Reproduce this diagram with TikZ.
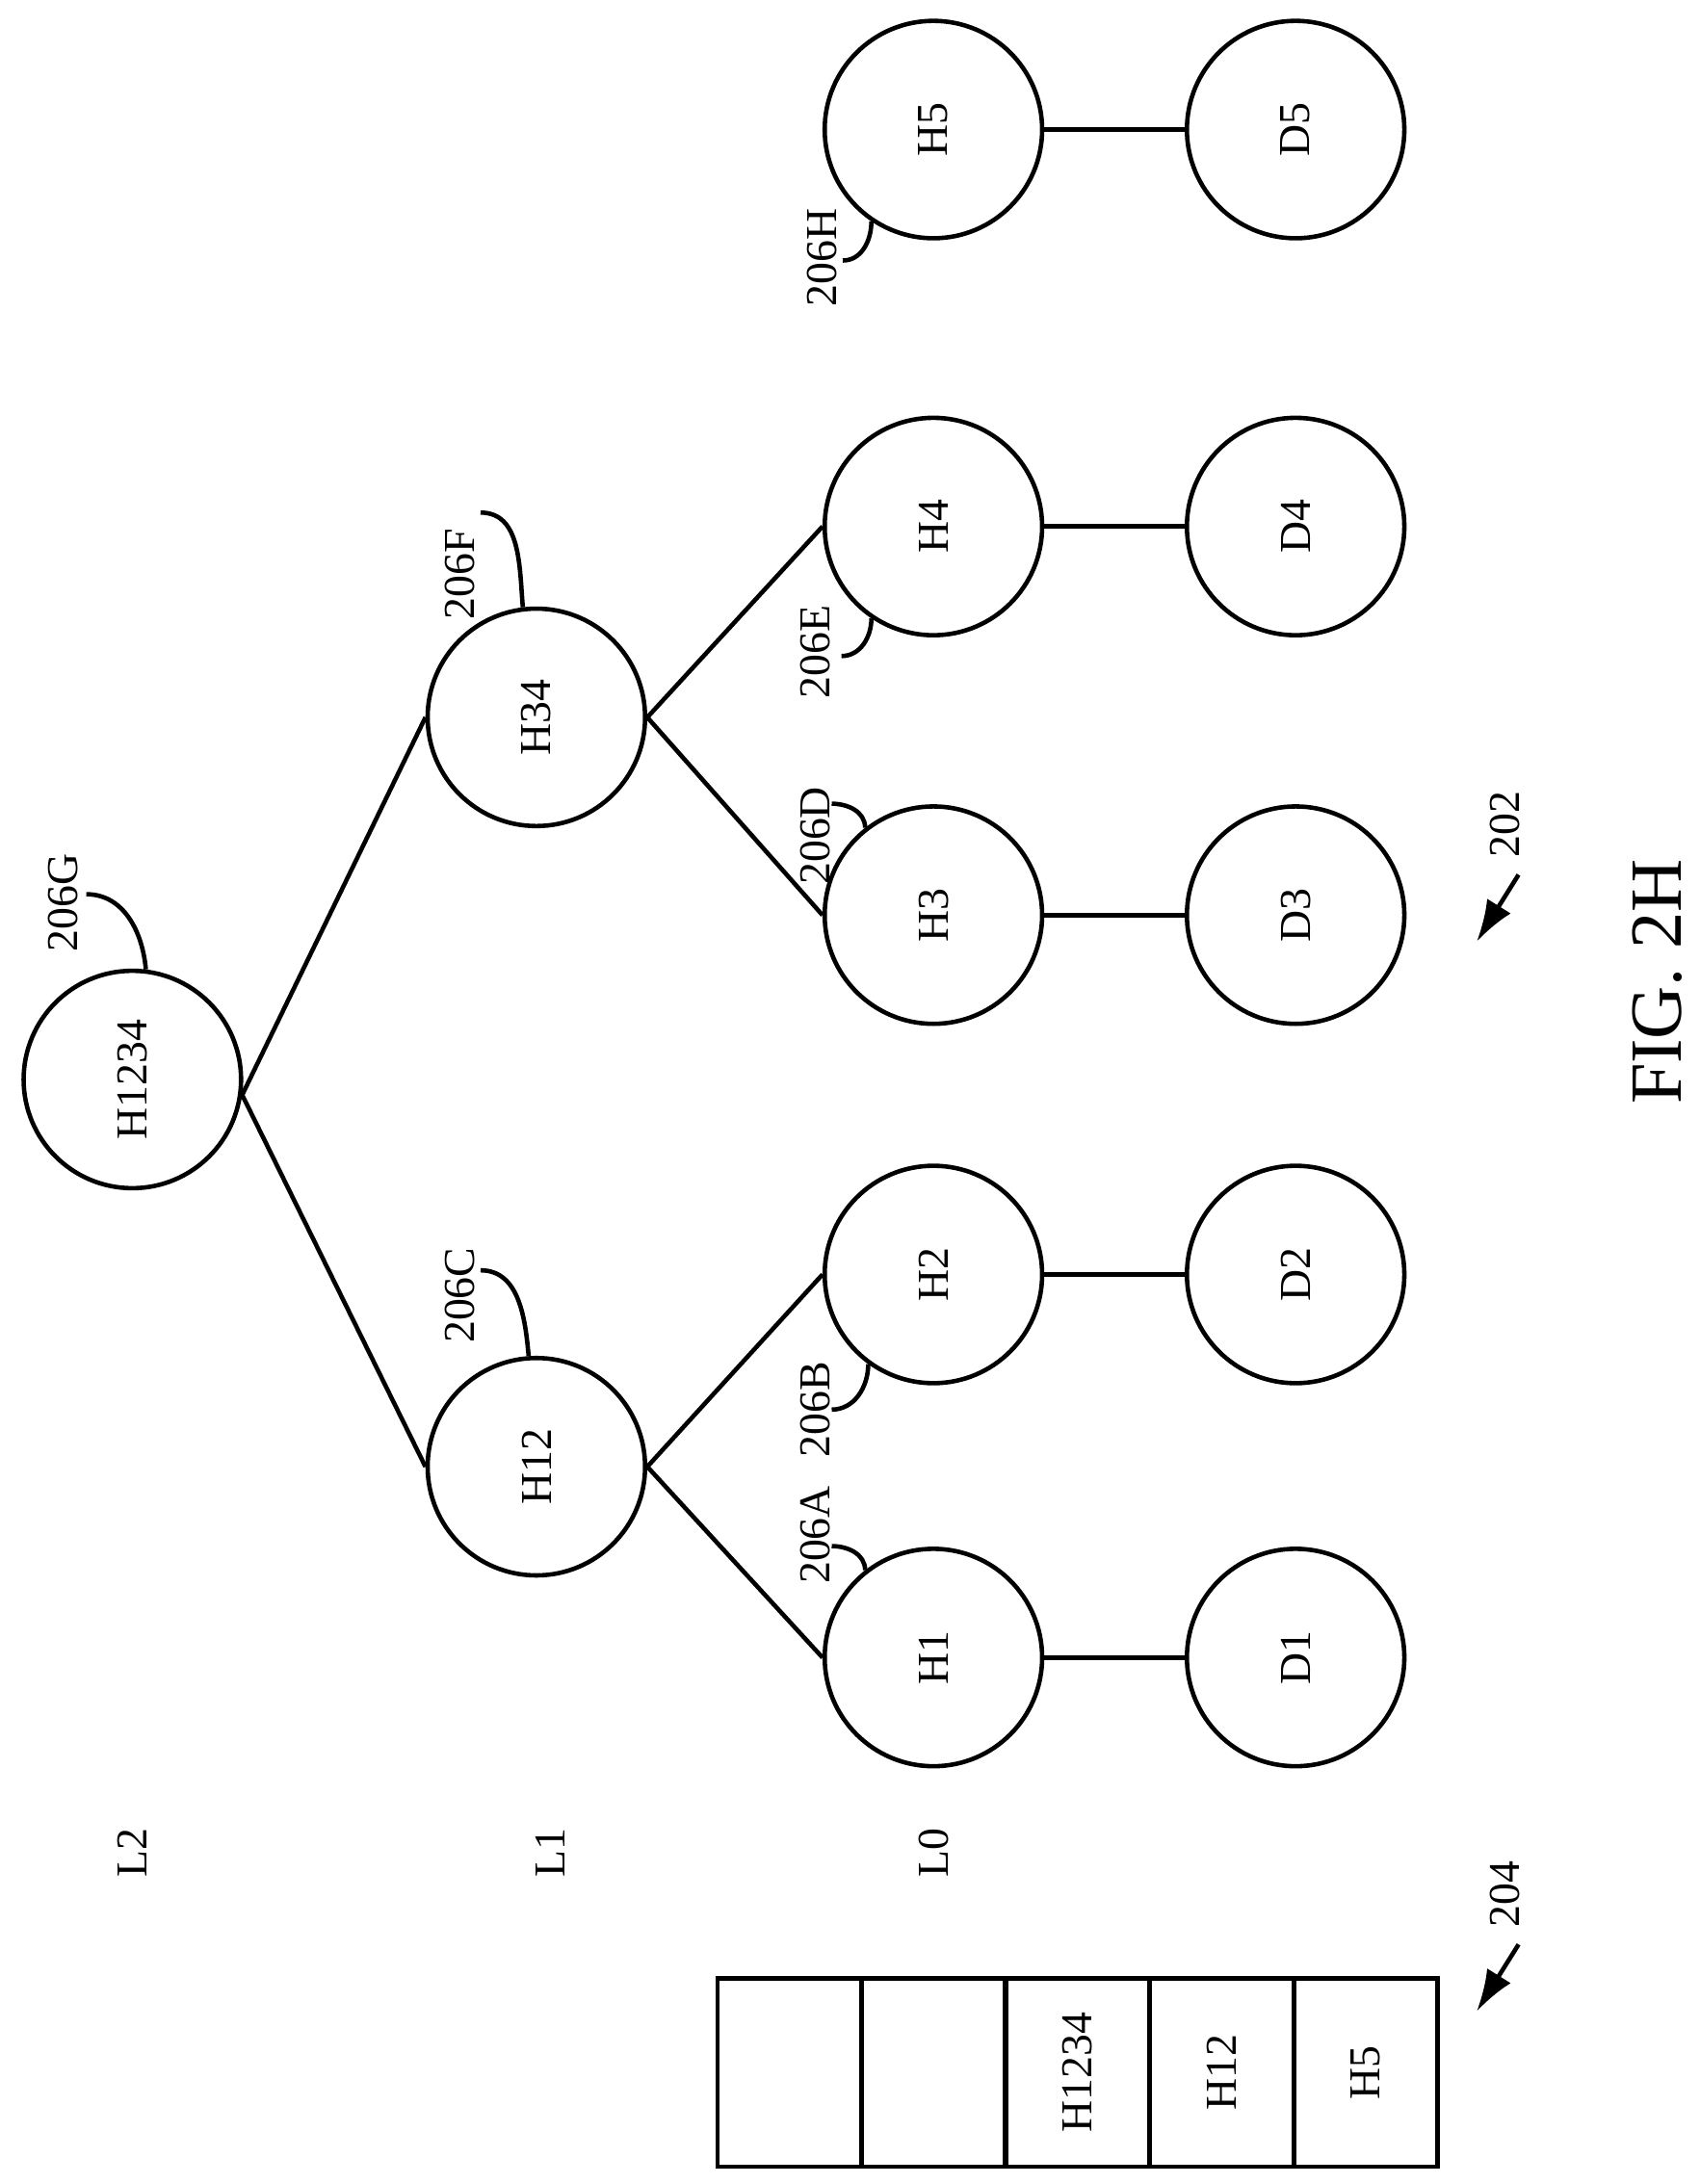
\documentclass[tikz,border=0pt]{standalone}
\usepackage{fontspec}
\setmainfont{Liberation Serif}
\usetikzlibrary{arrows.meta}
\begin{document}
\begin{tikzpicture}[x=0.01cm,y=-0.01cm,line width=0.9pt]
	\tikzstyle{hnode}=[circle,draw,minimum size=1.56cm,inner sep=0pt,font=\fontsize{9}{10}\selectfont];
	\tikzstyle{txt}=[rotate=90,inner sep=1pt,font=\fontsize{9}{10}\selectfont];
	\tikzstyle{cell}=[draw,minimum width=1.03cm,minimum height=1.35cm,inner sep=0pt,font=\fontsize{9}{10}\selectfont];
	\useasboundingbox (0,0) rectangle (1220,1568);

	% tree
	\node[hnode] (h1234) at (95,775)  {\rotatebox{90}{H1234}};
	\node[hnode] (h12)   at (385,1053) {\rotatebox{90}{H12}};
	\node[hnode] (h34)   at (385,515)  {\rotatebox{90}{H34}};
	\foreach \i/\y in {1/1190,2/915,3/657,4/378,5/93}{
		\node[hnode] (h\i) at (670,\y) {\rotatebox{90}{H\i}};
		\node[hnode] (d\i) at (930,\y) {\rotatebox{90}{D\i}};
		\draw (h\i) -- (d\i);
	}
	\draw (h1234.-8) -- (h12.west);
	\draw (h1234.-8) -- (h34.west);
	\draw (h12.east) -- (h1.west);
	\draw (h12.east) -- (h2.west);
	\draw (h34.east) -- (h3.west);
	\draw (h34.east) -- (h4.west);

	% levels
	\node[txt] (l2) at (95,1330)  {L2};
	\node[txt] (l1) at (395,1330) {L1};
	\node[txt] (l0) at (670,1330) {L0};

	% reference labels
	\node[txt] (g) at (45,648)  {206G};
	\node[txt] (c) at (330,930) {206C};
	\node[txt] (f) at (330,412) {206F};
	\node[txt] (a) at (585,1102) {206A};
	\node[txt] (b) at (585,1012) {206B};
	\node[txt] (dd) at (585,600) {206D};
	\node[txt] (e) at (585,468) {206E};
	\node[txt] (hh) at (590,185) {206H};
	\coordinate (g1) at (62,642);
	\coordinate (c1) at (345,912);
	\coordinate (f1) at (345,368);
	\coordinate (a1) at (597,1110);
	\coordinate (b1) at (597,1012);
	\coordinate (d1) at (597,577);
	\coordinate (e1) at (604,471);
	\coordinate (hh1) at (605,187);
	\draw (g1) to[out=0,in=95] (h1234.83);
	\draw (c1) to[out=0,in=95] (h12.94);
	\draw (f1) to[out=0,in=95] (h34.97);
	\draw (a1) to[out=0,in=90] (h1.128);
	\draw (b1) to[out=0,in=-90] (h2.234);
	\draw (d1) to[out=0,in=90] (h3.128);
	\draw (e1) to[out=0,in=-90] (h4.236);
	\draw (hh1) to[out=0,in=-90] (h5.236);

	% table
	\foreach \t [count=\k] in {{},{},H1234,H12,H5}{
		\node[cell] (t\k) at (515+103.5*\k-52,1488) {\rotatebox{90}{\t}};
	}

	% figure tags
	\node[txt] (n202) at (1080,592)  {202};
	\coordinate (s202) at (1090,628);
	\coordinate (p202) at (1060,676);
	\draw[-{Latex[length=3mm,width=2mm]}] (s202) -- (p202);
	\node[txt] (n204) at (1080,1360) {204};
	\coordinate (s204) at (1090,1396);
	\coordinate (p204) at (1060,1444);
	\draw[-{Latex[length=3mm,width=2mm]}] (s204) -- (p204);
	\node[rotate=90,font=\fontsize{15}{17}\selectfont] (fig) at (1190,705) {FIG. 2H};
\end{tikzpicture}
\end{document}
